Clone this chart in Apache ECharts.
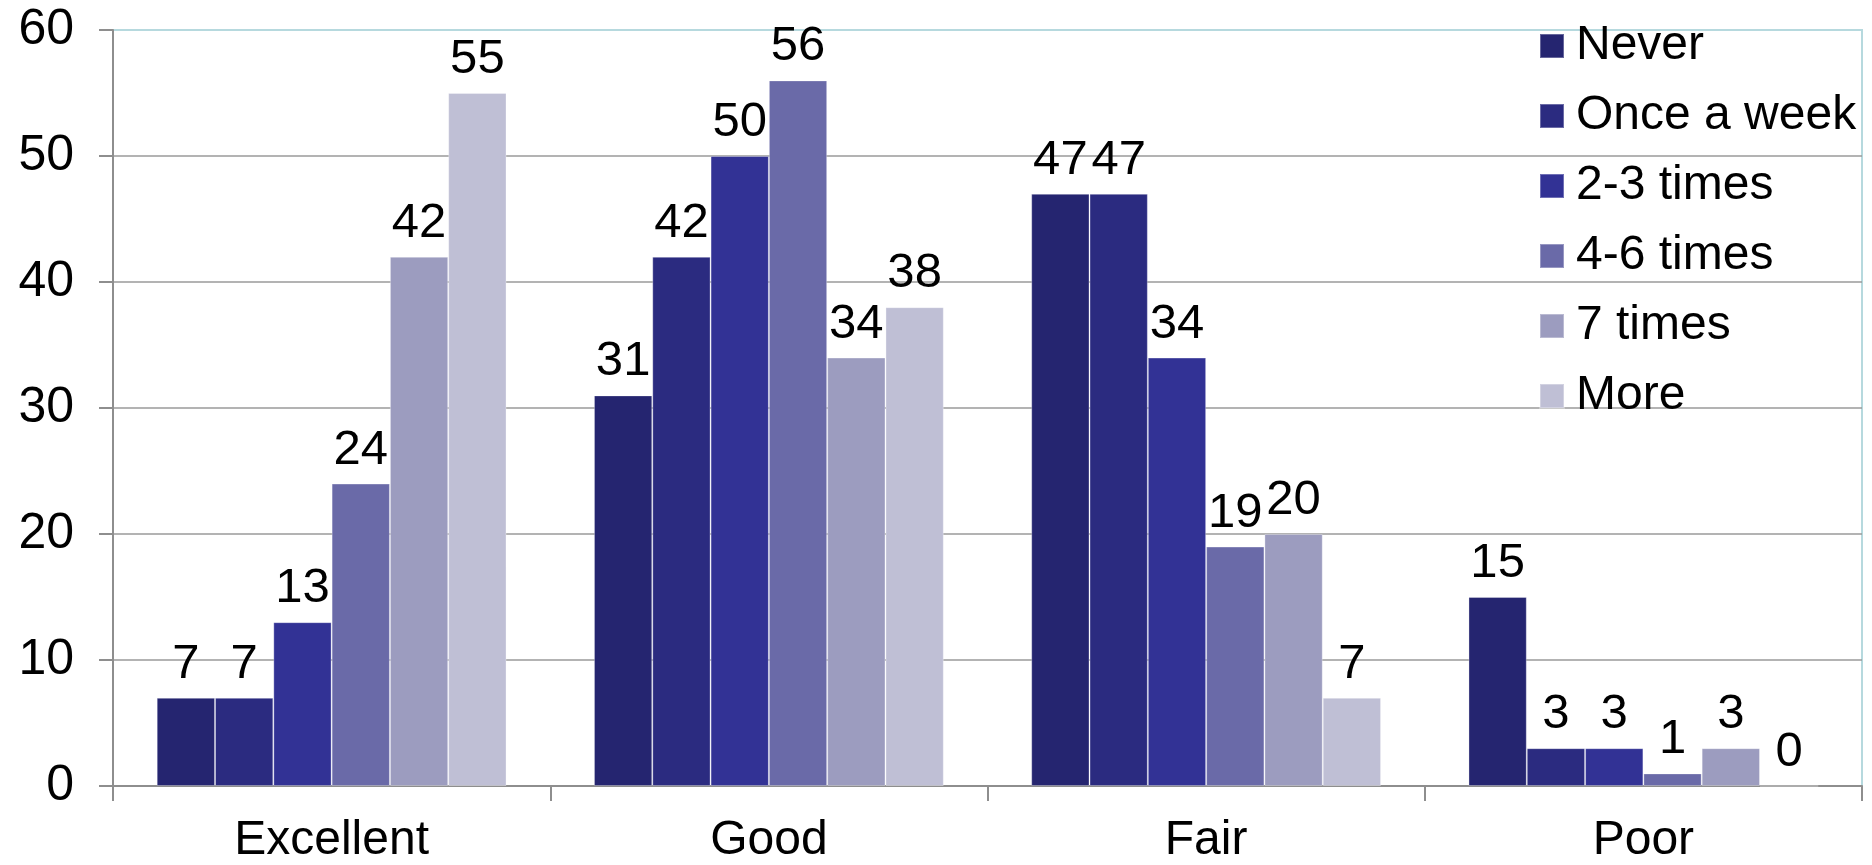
<!DOCTYPE html>
<html>
<head>
<meta charset="utf-8">
<script src="https://cdn.jsdelivr.net/npm/echarts@6/dist/echarts.min.js"></script>
<style>
  html, body { margin: 0; padding: 0; background: #fff; }
  #chart { width: 1872px; height: 865px; }
</style>
</head>
<body>
<div id="chart"></div>
<script>
// categories and series values
const categories = ['Excellent', 'Good', 'Fair', 'Poor'];
const seriesNames = ['Never', 'Once a week', '2-3 times', '4-6 times', '7 times', 'More'];
const never = [7, 31, 47, 15];
const onceAWeek = [7, 42, 47, 3];
const twoThree = [13, 50, 34, 3];
const fourSix = [24, 56, 19, 1];
const seven = [42, 34, 20, 3];
const more = [55, 38, 7, 0];
const yTicks = [0, 10, 20, 30, 40, 50, 60];

const values = [never, onceAWeek, twoThree, fourSix, seven, more];
const colors = ['#252570', '#2b2b80', '#323295', '#6a6aa8', '#9c9cbf', '#bfbfd5'];
const font = '"Liberation Sans", Arial, sans-serif';

const chart = echarts.init(document.getElementById('chart'));

chart.setOption({
  animation: false,
  backgroundColor: '#fff',
  textStyle: { fontFamily: font },
  grid: {
    left: 113,
    right: 10,
    top: 30,
    bottom: 77,
    show: true,
    borderColor: '#b6d9de',
    borderWidth: 2,
    backgroundColor: 'transparent'
  },
  legend: {
    orient: 'vertical',
    left: 1534,
    top: 17,
    icon: 'rect',
    itemWidth: 24,
    itemHeight: 24,
    itemGap: 22,
    data: seriesNames,
    textStyle: { fontSize: 48, lineHeight: 47, color: '#000', fontFamily: font, padding: [0, 0, 0, 7] }
  },
  xAxis: {
    type: 'category',
    data: categories,
    axisLine: { lineStyle: { color: '#8e8e8e', width: 2 } },
    axisTick: { show: true, length: 15, lineStyle: { color: '#8e8e8e', width: 2 } },
    axisLabel: { fontSize: 48, color: '#000', margin: 31, fontFamily: font }
  },
  yAxis: {
    type: 'value',
    min: yTicks[0],
    max: yTicks[yTicks.length - 1],
    interval: 10,
    axisLine: { show: true, lineStyle: { color: '#8e8e8e', width: 2 } },
    axisTick: { show: true, length: 14, lineStyle: { color: '#8e8e8e', width: 2 } },
    axisLabel: { fontSize: 50, color: '#000', margin: 39, fontFamily: font },
    splitLine: {
      show: true,
      lineStyle: {
        width: 1.5,
        color: ['#9a9a9a', '#9a9a9a', '#9a9a9a', '#9a9a9a', '#9a9a9a', '#9a9a9a', '#b6d9de']
      }
    }
  },
  series: seriesNames.map((name, i) => ({
    name: name,
    type: 'bar',
    data: values[i],
    barGap: '0%',
    barCategoryGap: '20%',
    itemStyle: {
      color: colors[i],
      borderColor: 'rgba(255,255,255,0.3)',
      borderWidth: 1
    },
    label: {
      show: true,
      position: 'top',
      distance: 9,
      fontSize: 49,
      lineHeight: 49,
      color: '#000',
      fontFamily: font
    }
  }))
});
</script>
</body>
</html>
